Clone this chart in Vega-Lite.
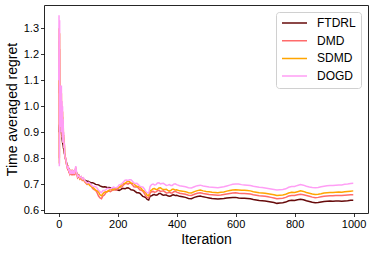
{
"$schema": "https://vega.github.io/schema/vega-lite/v6.json",
"width": 324, "height": 208,
"autosize": {"type": "none"},
"padding": {"left": 44, "top": 5, "right": 6, "bottom": 40},
"config": {
 "font": "Liberation Sans",
 "view": {"stroke": "#262626", "strokeWidth": 1},
 "axis": {"domain": false, "grid": false, "ticks": true, "tickColor": "#000", "tickSize": 3.5, "tickWidth": 0.8, "labelFontSize": 11, "labelColor": "#000", "titleFontSize": 14, "titleFontWeight": "normal", "titleColor": "#000"}
},
"data": {"values": [
{"t":0,"FTDRL":0.90,"DMD":1.05,"SDMD":1.08,"DOGD":1.10},
{"t":1,"FTDRL":0.92,"DMD":1.25,"SDMD":1.30,"DOGD":1.35},
{"t":2,"FTDRL":0.93,"DMD":0.80,"SDMD":0.78,"DOGD":0.77},
{"t":3,"FTDRL":0.92,"DMD":1.22,"SDMD":1.28,"DOGD":1.33},
{"t":4,"FTDRL":0.93,"DMD":0.92,"SDMD":0.91,"DOGD":0.90},
{"t":5,"FTDRL":0.935,"DMD":1.00,"SDMD":1.03,"DOGD":1.05},
{"t":6,"FTDRL":0.93,"DMD":0.95,"SDMD":0.95,"DOGD":0.95},
{"t":7,"FTDRL":0.92,"DMD":1.03,"SDMD":1.06,"DOGD":1.08},
{"t":8,"FTDRL":0.91,"DMD":0.93,"SDMD":0.92,"DOGD":0.92},
{"t":9,"FTDRL":0.90,"DMD":1.02,"SDMD":1.05,"DOGD":1.08},
{"t":10,"FTDRL":0.89,"DMD":0.91,"SDMD":0.90,"DOGD":0.90},
{"t":11,"FTDRL":0.885,"DMD":0.98,"SDMD":1.00,"DOGD":1.02},
{"t":12,"FTDRL":0.87,"DMD":0.89,"SDMD":0.88,"DOGD":0.88},
{"t":13,"FTDRL":0.86,"DMD":0.96,"SDMD":0.98,"DOGD":1.00},
{"t":14,"FTDRL":0.855,"DMD":0.87,"SDMD":0.86,"DOGD":0.86},
{"t":15,"FTDRL":0.85,"DMD":0.92,"SDMD":0.94,"DOGD":0.95},
{"t":16,"FTDRL":0.84,"DMD":0.87,"SDMD":0.88,"DOGD":0.88},
{"t":17,"FTDRL":0.835,"DMD":0.88,"SDMD":0.89,"DOGD":0.90},
{"t":18,"FTDRL":0.83,"DMD":0.84,"SDMD":0.84,"DOGD":0.84},
{"t":19,"FTDRL":0.82,"DMD":0.85,"SDMD":0.855,"DOGD":0.86},
{"t":20,"FTDRL":0.815,"DMD":0.82,"SDMD":0.82,"DOGD":0.82},
{"t":22,"FTDRL":0.80,"DMD":0.80,"SDMD":0.80,"DOGD":0.80},
{"t":24,"FTDRL":0.795,"DMD":0.795,"SDMD":0.80,"DOGD":0.80},
{"t":26,"FTDRL":0.785,"DMD":0.78,"SDMD":0.78,"DOGD":0.78},
{"t":28,"FTDRL":0.775,"DMD":0.77,"SDMD":0.77,"DOGD":0.77},
{"t":30,"FTDRL":0.77,"DMD":0.76,"SDMD":0.76,"DOGD":0.76},
{"t":32,"FTDRL":0.765,"DMD":0.765,"SDMD":0.77,"DOGD":0.77},
{"t":34,"FTDRL":0.76,"DMD":0.75,"SDMD":0.75,"DOGD":0.75},
{"t":36,"FTDRL":0.755,"DMD":0.755,"SDMD":0.76,"DOGD":0.76},
{"t":38,"FTDRL":0.75,"DMD":0.74,"SDMD":0.74,"DOGD":0.74},
{"t":40,"FTDRL":0.75,"DMD":0.745,"SDMD":0.75,"DOGD":0.75},
{"t":42,"FTDRL":0.748,"DMD":0.74,"SDMD":0.745,"DOGD":0.745},
{"t":44,"FTDRL":0.748,"DMD":0.745,"SDMD":0.75,"DOGD":0.75},
{"t":46,"FTDRL":0.746,"DMD":0.735,"SDMD":0.74,"DOGD":0.74},
{"t":48,"FTDRL":0.745,"DMD":0.745,"SDMD":0.75,"DOGD":0.75},
{"t":50,"FTDRL":0.745,"DMD":0.74,"SDMD":0.745,"DOGD":0.745},
{"t":52,"FTDRL":0.745,"DMD":0.745,"SDMD":0.75,"DOGD":0.75},
{"t":54,"FTDRL":0.744,"DMD":0.735,"SDMD":0.74,"DOGD":0.74},
{"t":56,"FTDRL":0.745,"DMD":0.75,"SDMD":0.755,"DOGD":0.76},
{"t":58,"FTDRL":0.746,"DMD":0.76,"SDMD":0.765,"DOGD":0.77},
{"t":60,"FTDRL":0.745,"DMD":0.74,"SDMD":0.745,"DOGD":0.75},
{"t":62,"FTDRL":0.742,"DMD":0.735,"SDMD":0.74,"DOGD":0.74},
{"t":64,"FTDRL":0.738,"DMD":0.725,"SDMD":0.73,"DOGD":0.73},
{"t":68,"FTDRL":0.735,"DMD":0.73,"SDMD":0.735,"DOGD":0.735},
{"t":72,"FTDRL":0.728,"DMD":0.72,"SDMD":0.722,"DOGD":0.725},
{"t":76,"FTDRL":0.726,"DMD":0.725,"SDMD":0.728,"DOGD":0.73},
{"t":80,"FTDRL":0.722,"DMD":0.715,"SDMD":0.718,"DOGD":0.72},
{"t":84,"FTDRL":0.72,"DMD":0.718,"SDMD":0.72,"DOGD":0.725},
{"t":88,"FTDRL":0.716,"DMD":0.71,"SDMD":0.712,"DOGD":0.715},
{"t":92,"FTDRL":0.714,"DMD":0.705,"SDMD":0.707,"DOGD":0.71},
{"t":96,"FTDRL":0.712,"DMD":0.70,"SDMD":0.702,"DOGD":0.705},
{"t":100,"FTDRL":0.712,"DMD":0.706,"SDMD":0.704,"DOGD":0.708},
{"t":110,"FTDRL":0.706,"DMD":0.694,"SDMD":0.692,"DOGD":0.698},
{"t":120,"FTDRL":0.704,"DMD":0.680,"SDMD":0.684,"DOGD":0.692},
{"t":130,"FTDRL":0.699,"DMD":0.668,"SDMD":0.676,"DOGD":0.686},
{"t":140,"FTDRL":0.694,"DMD":0.648,"SDMD":0.660,"DOGD":0.672},
{"t":145,"FTDRL":0.692,"DMD":0.645,"SDMD":0.656,"DOGD":0.668},
{"t":150,"FTDRL":0.690,"DMD":0.656,"SDMD":0.664,"DOGD":0.676},
{"t":160,"FTDRL":0.690,"DMD":0.668,"SDMD":0.672,"DOGD":0.680},
{"t":170,"FTDRL":0.688,"DMD":0.674,"SDMD":0.677,"DOGD":0.684},
{"t":180,"FTDRL":0.683,"DMD":0.676,"SDMD":0.680,"DOGD":0.686},
{"t":190,"FTDRL":0.680,"DMD":0.679,"SDMD":0.683,"DOGD":0.688},
{"t":200,"FTDRL":0.678,"DMD":0.682,"SDMD":0.686,"DOGD":0.690},
{"t":210,"FTDRL":0.680,"DMD":0.690,"SDMD":0.694,"DOGD":0.700},
{"t":220,"FTDRL":0.684,"DMD":0.698,"SDMD":0.703,"DOGD":0.710},
{"t":230,"FTDRL":0.686,"DMD":0.703,"SDMD":0.709,"DOGD":0.717},
{"t":240,"FTDRL":0.684,"DMD":0.705,"SDMD":0.710,"DOGD":0.718},
{"t":250,"FTDRL":0.678,"DMD":0.698,"SDMD":0.704,"DOGD":0.712},
{"t":260,"FTDRL":0.672,"DMD":0.690,"SDMD":0.696,"DOGD":0.703},
{"t":270,"FTDRL":0.668,"DMD":0.686,"SDMD":0.692,"DOGD":0.699},
{"t":280,"FTDRL":0.660,"DMD":0.677,"SDMD":0.684,"DOGD":0.691},
{"t":290,"FTDRL":0.652,"DMD":0.666,"SDMD":0.674,"DOGD":0.683},
{"t":300,"FTDRL":0.642,"DMD":0.650,"SDMD":0.658,"DOGD":0.668},
{"t":305,"FTDRL":0.640,"DMD":0.648,"SDMD":0.656,"DOGD":0.666},
{"t":310,"FTDRL":0.655,"DMD":0.667,"SDMD":0.676,"DOGD":0.692},
{"t":320,"FTDRL":0.660,"DMD":0.673,"SDMD":0.683,"DOGD":0.701},
{"t":330,"FTDRL":0.658,"DMD":0.671,"SDMD":0.680,"DOGD":0.699},
{"t":340,"FTDRL":0.665,"DMD":0.677,"SDMD":0.686,"DOGD":0.706},
{"t":350,"FTDRL":0.661,"DMD":0.674,"SDMD":0.683,"DOGD":0.703},
{"t":360,"FTDRL":0.659,"DMD":0.671,"SDMD":0.680,"DOGD":0.700},
{"t":370,"FTDRL":0.656,"DMD":0.668,"SDMD":0.677,"DOGD":0.697},
{"t":380,"FTDRL":0.655,"DMD":0.667,"SDMD":0.676,"DOGD":0.696},
{"t":390,"FTDRL":0.660,"DMD":0.672,"SDMD":0.681,"DOGD":0.701},
{"t":400,"FTDRL":0.658,"DMD":0.670,"SDMD":0.679,"DOGD":0.699},
{"t":410,"FTDRL":0.654,"DMD":0.666,"SDMD":0.675,"DOGD":0.695},
{"t":420,"FTDRL":0.652,"DMD":0.664,"SDMD":0.674,"DOGD":0.693},
{"t":430,"FTDRL":0.650,"DMD":0.662,"SDMD":0.672,"DOGD":0.691},
{"t":440,"FTDRL":0.646,"DMD":0.658,"SDMD":0.668,"DOGD":0.687},
{"t":450,"FTDRL":0.645,"DMD":0.657,"SDMD":0.667,"DOGD":0.686},
{"t":460,"FTDRL":0.650,"DMD":0.662,"SDMD":0.672,"DOGD":0.691},
{"t":470,"FTDRL":0.653,"DMD":0.666,"SDMD":0.676,"DOGD":0.695},
{"t":480,"FTDRL":0.655,"DMD":0.668,"SDMD":0.678,"DOGD":0.697},
{"t":490,"FTDRL":0.652,"DMD":0.665,"SDMD":0.675,"DOGD":0.694},
{"t":500,"FTDRL":0.650,"DMD":0.663,"SDMD":0.673,"DOGD":0.692},
{"t":510,"FTDRL":0.648,"DMD":0.661,"SDMD":0.672,"DOGD":0.690},
{"t":520,"FTDRL":0.646,"DMD":0.660,"SDMD":0.670,"DOGD":0.689},
{"t":530,"FTDRL":0.645,"DMD":0.659,"SDMD":0.669,"DOGD":0.688},
{"t":540,"FTDRL":0.644,"DMD":0.658,"SDMD":0.668,"DOGD":0.687},
{"t":550,"FTDRL":0.645,"DMD":0.659,"SDMD":0.670,"DOGD":0.689},
{"t":560,"FTDRL":0.646,"DMD":0.661,"SDMD":0.671,"DOGD":0.691},
{"t":570,"FTDRL":0.648,"DMD":0.663,"SDMD":0.674,"DOGD":0.694},
{"t":580,"FTDRL":0.649,"DMD":0.665,"SDMD":0.676,"DOGD":0.697},
{"t":590,"FTDRL":0.650,"DMD":0.667,"SDMD":0.678,"DOGD":0.700},
{"t":600,"FTDRL":0.650,"DMD":0.668,"SDMD":0.679,"DOGD":0.701},
{"t":610,"FTDRL":0.648,"DMD":0.666,"SDMD":0.678,"DOGD":0.701},
{"t":620,"FTDRL":0.647,"DMD":0.665,"SDMD":0.677,"DOGD":0.699},
{"t":630,"FTDRL":0.647,"DMD":0.665,"SDMD":0.677,"DOGD":0.698},
{"t":640,"FTDRL":0.646,"DMD":0.664,"SDMD":0.676,"DOGD":0.697},
{"t":650,"FTDRL":0.645,"DMD":0.663,"SDMD":0.675,"DOGD":0.696},
{"t":660,"FTDRL":0.642,"DMD":0.660,"SDMD":0.672,"DOGD":0.693},
{"t":670,"FTDRL":0.640,"DMD":0.658,"SDMD":0.670,"DOGD":0.691},
{"t":680,"FTDRL":0.638,"DMD":0.656,"SDMD":0.668,"DOGD":0.689},
{"t":690,"FTDRL":0.637,"DMD":0.655,"SDMD":0.667,"DOGD":0.688},
{"t":700,"FTDRL":0.636,"DMD":0.654,"SDMD":0.666,"DOGD":0.686},
{"t":710,"FTDRL":0.634,"DMD":0.652,"SDMD":0.664,"DOGD":0.684},
{"t":720,"FTDRL":0.632,"DMD":0.650,"SDMD":0.662,"DOGD":0.682},
{"t":730,"FTDRL":0.630,"DMD":0.648,"SDMD":0.660,"DOGD":0.680},
{"t":740,"FTDRL":0.627,"DMD":0.645,"SDMD":0.657,"DOGD":0.678},
{"t":750,"FTDRL":0.628,"DMD":0.646,"SDMD":0.658,"DOGD":0.679},
{"t":760,"FTDRL":0.629,"DMD":0.647,"SDMD":0.659,"DOGD":0.680},
{"t":770,"FTDRL":0.632,"DMD":0.650,"SDMD":0.662,"DOGD":0.683},
{"t":780,"FTDRL":0.637,"DMD":0.655,"SDMD":0.667,"DOGD":0.689},
{"t":790,"FTDRL":0.639,"DMD":0.657,"SDMD":0.670,"DOGD":0.692},
{"t":800,"FTDRL":0.638,"DMD":0.657,"SDMD":0.669,"DOGD":0.692},
{"t":810,"FTDRL":0.641,"DMD":0.660,"SDMD":0.672,"DOGD":0.696},
{"t":820,"FTDRL":0.643,"DMD":0.662,"SDMD":0.675,"DOGD":0.699},
{"t":830,"FTDRL":0.641,"DMD":0.660,"SDMD":0.673,"DOGD":0.697},
{"t":840,"FTDRL":0.637,"DMD":0.657,"SDMD":0.669,"DOGD":0.693},
{"t":850,"FTDRL":0.634,"DMD":0.654,"SDMD":0.666,"DOGD":0.690},
{"t":860,"FTDRL":0.631,"DMD":0.651,"SDMD":0.663,"DOGD":0.688},
{"t":870,"FTDRL":0.629,"DMD":0.649,"SDMD":0.661,"DOGD":0.687},
{"t":880,"FTDRL":0.630,"DMD":0.650,"SDMD":0.662,"DOGD":0.688},
{"t":890,"FTDRL":0.632,"DMD":0.652,"SDMD":0.664,"DOGD":0.691},
{"t":900,"FTDRL":0.634,"DMD":0.654,"SDMD":0.667,"DOGD":0.693},
{"t":910,"FTDRL":0.635,"DMD":0.655,"SDMD":0.668,"DOGD":0.695},
{"t":920,"FTDRL":0.636,"DMD":0.656,"SDMD":0.669,"DOGD":0.696},
{"t":930,"FTDRL":0.635,"DMD":0.656,"SDMD":0.669,"DOGD":0.696},
{"t":940,"FTDRL":0.636,"DMD":0.657,"SDMD":0.670,"DOGD":0.697},
{"t":950,"FTDRL":0.636,"DMD":0.657,"SDMD":0.671,"DOGD":0.698},
{"t":960,"FTDRL":0.635,"DMD":0.657,"SDMD":0.670,"DOGD":0.698},
{"t":970,"FTDRL":0.636,"DMD":0.658,"SDMD":0.672,"DOGD":0.700},
{"t":980,"FTDRL":0.637,"DMD":0.659,"SDMD":0.673,"DOGD":0.701},
{"t":990,"FTDRL":0.639,"DMD":0.660,"SDMD":0.674,"DOGD":0.703},
{"t":999,"FTDRL":0.639,"DMD":0.660,"SDMD":0.675,"DOGD":0.704},
{"t":105,"FTDRL":0.708,"DMD":0.703,"SDMD":0.696,"DOGD":0.705},
{"t":115,"FTDRL":0.706,"DMD":0.684,"SDMD":0.690,"DOGD":0.693},
{"t":125,"FTDRL":0.700,"DMD":0.677,"SDMD":0.678,"DOGD":0.691},
{"t":135,"FTDRL":0.698,"DMD":0.655,"SDMD":0.671,"DOGD":0.677},
{"t":155,"FTDRL":0.691,"DMD":0.659,"SDMD":0.670,"DOGD":0.676},
{"t":165,"FTDRL":0.687,"DMD":0.674,"SDMD":0.672,"DOGD":0.685},
{"t":175,"FTDRL":0.687,"DMD":0.672,"SDMD":0.681,"DOGD":0.683},
{"t":185,"FTDRL":0.680,"DMD":0.680,"SDMD":0.679,"DOGD":0.690},
{"t":195,"FTDRL":0.681,"DMD":0.678,"SDMD":0.687,"DOGD":0.687},
{"t":205,"FTDRL":0.677,"DMD":0.689,"SDMD":0.688,"DOGD":0.698},
{"t":215,"FTDRL":0.684,"DMD":0.691,"SDMD":0.701,"DOGD":0.703},
{"t":225,"FTDRL":0.683,"DMD":0.703,"SDMD":0.704,"DOGD":0.716},
{"t":235,"FTDRL":0.687,"DMD":0.701,"SDMD":0.712,"DOGD":0.715},
{"t":245,"FTDRL":0.679,"DMD":0.704,"SDMD":0.705,"DOGD":0.718},
{"t":255,"FTDRL":0.677,"DMD":0.691,"SDMD":0.703,"DOGD":0.705},
{"t":265,"FTDRL":0.668,"DMD":0.691,"SDMD":0.692,"DOGD":0.704},
{"t":275,"FTDRL":0.666,"DMD":0.679,"SDMD":0.690,"DOGD":0.693},
{"t":285,"FTDRL":0.654,"DMD":0.674,"SDMD":0.677,"DOGD":0.690},
{"t":295,"FTDRL":0.649,"DMD":0.655,"SDMD":0.668,"DOGD":0.673},
{"t":315,"FTDRL":0.656,"DMD":0.672,"SDMD":0.678,"DOGD":0.699},
{"t":325,"FTDRL":0.661,"DMD":0.670,"SDMD":0.684,"DOGD":0.698},
{"t":335,"FTDRL":0.660,"DMD":0.676,"SDMD":0.681,"DOGD":0.705},
{"t":345,"FTDRL":0.665,"DMD":0.673,"SDMD":0.687,"DOGD":0.702},
{"t":355,"FTDRL":0.658,"DMD":0.675,"SDMD":0.680,"DOGD":0.704},
{"t":365,"FTDRL":0.659,"DMD":0.667,"SDMD":0.681,"DOGD":0.696},
{"t":375,"FTDRL":0.654,"DMD":0.670,"SDMD":0.675,"DOGD":0.699},
{"t":385,"FTDRL":0.659,"DMD":0.667,"SDMD":0.681,"DOGD":0.696},
{"t":395,"FTDRL":0.657,"DMD":0.673,"SDMD":0.678,"DOGD":0.702}
]},
"transform": [{"fold": ["FTDRL", "DMD", "SDMD", "DOGD"], "as": ["series", "value"]}],
"mark": {"type": "line", "strokeWidth": 1.5, "clip": true},
"encoding": {
 "x": {"field": "t", "type": "quantitative", "scale": {"domain": [-50, 1049], "nice": false, "zero": false},
  "axis": {"title": "Iteration", "values": [0, 200, 400, 600, 800, 1000], "format": "d", "labelPadding": 2, "titlePadding": 3}},
 "y": {"field": "value", "type": "quantitative", "scale": {"domain": [0.59, 1.389], "nice": false, "zero": false},
  "axis": {"title": "Time averaged regret", "values": [0.6, 0.7, 0.8, 0.9, 1.0, 1.1, 1.2, 1.3], "format": ".1f", "labelPadding": 2, "titlePadding": 4}},
 "color": {"field": "series", "type": "nominal",
  "scale": {"domain": ["FTDRL", "DMD", "SDMD", "DOGD"], "range": ["#660a0a", "#ff6b6b", "#ffa500", "#ff9ef5"]},
  "legend": {"title": null, "orient": "none", "legendX": 232, "legendY": 7, "symbolType": "stroke", "symbolSize": 625, "symbolStrokeWidth": 1.5, "clipHeight": 12, "rowPadding": 5.7, "labelFontSize": 12, "labelColor": "#000", "labelOffset": 9, "padding": 5, "strokeColor": "#d0d0d0", "fillColor": "rgba(255,255,255,0.8)", "cornerRadius": 3}}
}
}
